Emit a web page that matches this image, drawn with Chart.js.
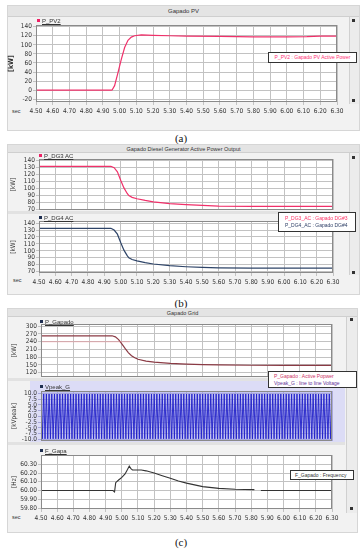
<!DOCTYPE html>
<html><head><meta charset="utf-8">
<script src="https://cdn.jsdelivr.net/npm/chart.js@4.4.1/dist/chart.umd.min.js"></script>
<style>
body{margin:0;width:363px;height:550px;background:#fff;position:relative;overflow:hidden;font-family:"Liberation Sans",Arial,sans-serif}
.panel{position:absolute;background:#f2f2f2;border:1px solid #d6d6d6;box-sizing:border-box}
.tbar{position:absolute;background:#e4e4e4;border-bottom:1px solid #cfcfcf;font-size:5.5px;color:#333;text-align:center;box-sizing:border-box}
.cap{position:absolute;font-family:"Liberation Serif",serif;font-size:11px;color:#111;width:40px;text-align:center;line-height:14px}
.lg{position:absolute;font-size:6px;color:#333;white-space:nowrap;line-height:7px;z-index:5}
.lg span{text-decoration:underline}
.lg i{display:inline-block;width:3px;height:3px;margin-right:2px;vertical-align:1px}
.box{position:absolute;background:#fff;border:1px solid #333;font-size:5px;box-sizing:border-box;white-space:nowrap;line-height:7px;z-index:5}
.sec{position:absolute;font-size:5.5px;color:#333}
.scroll{position:absolute;background:#ececec;border-left:1px solid #d0d0d0;box-sizing:border-box}
.sq{position:absolute;width:3px;height:3px;background:#333}
.sep{position:absolute;background:#e2e2e2}
canvas{position:absolute;left:0}
</style></head><body>

<!-- panel (a) -->
<div class="panel" style="left:7px;top:5px;width:353px;height:126px"></div>
<div class="tbar" style="left:8px;top:6px;width:351px;height:11px;line-height:10px;font-size:6px">Gapado PV</div>
<div class="scroll" style="left:349px;top:17px;width:10px;height:87px"></div>
<div class="sq" style="left:352px;top:19px"></div>
<div class="sq" style="left:352px;top:99px"></div>
<div class="lg" style="left:37px;top:18px"><i style="background:#ee2266"></i><span>P_PV2</span></div>
<div class="sec" style="left:12px;top:108px">sec</div>
<div class="box" style="left:268px;top:52px;width:89px;height:11px;line-height:9px;text-align:center;color:#ff3377">P_PV2 : Gapado PV Active Power</div>
<div class="cap" style="left:161px;top:131px">(a)</div>

<!-- panel (b) -->
<div class="panel" style="left:7px;top:144px;width:353px;height:151px"></div>
<div class="tbar" style="left:8px;top:145px;width:351px;height:8px;line-height:8px">Gapado Diesel Generator Active Power Output</div>
<div class="sep" style="left:8px;top:211px;width:341px;height:3px"></div>
<div class="scroll" style="left:349px;top:153px;width:10px;height:122px"></div>
<div class="sq" style="left:352px;top:156px"></div>
<div class="sq" style="left:352px;top:271px"></div>
<div class="lg" style="left:39px;top:153px"><i style="background:#ee2266"></i><span>P_DG3 AC</span></div>
<div class="lg" style="left:39px;top:215px"><i style="background:#1e2e50"></i><span>P_DG4 AC</span></div>
<div class="sec" style="left:13px;top:277px">sec</div>
<div class="box" style="left:278px;top:212px;width:78px;height:20px;padding:2px 0 0 6px"><div style="color:#ff3366">P_DG3_AC : Gapado DG#3</div><div style="color:#2e3f66">P_DG4_AC : Gapado DG#4</div></div>
<div class="cap" style="left:161px;top:296px">(b)</div>

<!-- panel (c) -->
<div class="panel" style="left:7px;top:308px;width:351px;height:225px"></div>
<div class="tbar" style="left:8px;top:309px;width:349px;height:8px;line-height:8px">Gapado Grid</div>
<div class="sep" style="left:8px;top:378px;width:337px;height:3px"></div>
<div style="position:absolute;left:30px;top:381px;width:315px;height:61px;background:#dcdcf6"></div>
<div class="sep" style="left:8px;top:442px;width:337px;height:3px"></div>
<div class="scroll" style="left:346px;top:317px;width:11px;height:196px"></div>
<div class="sq" style="left:350px;top:318px"></div>
<div class="sq" style="left:350px;top:507px"></div>
<div class="lg" style="left:40px;top:319px"><i style="background:#1e2e50"></i><span>P_Gapado</span></div>
<div class="lg" style="left:40px;top:384px"><i style="background:#1e2e50"></i><span>Vpeak_G</span></div>
<div class="lg" style="left:40px;top:448px"><i style="background:#1e2e50"></i><span>F_Gapa</span></div>
<div class="sec" style="left:12px;top:514px">sec</div>
<div class="box" style="left:268px;top:371px;width:89px;height:17px;padding:1px 0 0 5px"><div style="color:#cc3366">P_Gapado : Active Popwer</div><div style="color:#663399">Vpeak_G : line to line Voltage</div></div>
<div class="box" style="left:290px;top:470px;width:64px;height:10px;line-height:8px;padding-left:4px;color:#333">F_Gapado : Frequency</div>
<div class="cap" style="left:161px;top:535px">(c)</div>

<canvas id="cA"></canvas>
<canvas id="cB1"></canvas>
<canvas id="cB2"></canvas>
<canvas id="cC1"></canvas>
<canvas id="cC2"></canvas>
<canvas id="cC3"></canvas>

<script>
// ---------- data ----------
const xTicks = [4.50,4.60,4.70,4.80,4.90,5.00,5.10,5.20,5.30,5.40,5.50,5.60,5.70,5.80,5.90,6.00,6.10,6.20,6.30];

// (a) PV active power [kW]
const pvTimes  = [4.50,4.95,4.955,4.97,4.99,5.01,5.03,5.05,5.07,5.09,5.13,5.20,5.30,5.40,5.60,5.80,5.90,6.00,6.12,6.20,6.30];
const pvValues = [0,0,0.5,10,38,68,94,110,117,120,122,121,120,119,118.5,117.5,117.5,117.5,118,119,119];
const pvTicks  = [-20,0,20,40,60,80,100,120,140];

// (b) diesel generators [kW]
const dgTimes  = [4.50,4.94,4.96,4.98,5.00,5.02,5.04,5.05,5.07,5.10,5.15,5.20,5.30,5.40,5.50,5.60,5.80,6.00,6.30];
const dg3Values= [132,132,130,124,112,101,93,90,87.5,85.5,83,81,78.5,77,76,75,74.5,74.5,74.5];
const dg4Values= [132.5,132.5,130,124,112,101,93,90,87.5,85.5,83,81,78.5,77,76,75.5,75,75,75];
const dgTicks  = [70,80,90,100,110,120,130,140];

// (c) grid active power [kW]
const gridTimes  = [4.50,4.94,4.96,4.98,5.00,5.02,5.04,5.06,5.08,5.10,5.15,5.20,5.30,5.40,5.50,5.60,5.80,6.00,6.30];
const gridValues = [263,263,259,248,232,214,198,186,178,172,165,161,156,153,151,150,149,148.5,148.5];
const gridShadowTimes  = [4.50,5.05];
const gridShadowValues = [240,240];
const gridTicks  = [120,150,180,210,240,270,300];

// (c) line to line voltage peaks [kVpeak], one value per half cycle
const vpeakStart = 4.50;
const vpeakHalfPeriod = 1/120;
const vpeakValues = [
9.8,-9.8,9.8,-9.8,9.8,-9.8,9.8,-9.8,9.8,-9.8,9.8,-9.8,
9.8,-9.8,9.8,-9.8,9.8,-9.8,9.8,-9.8,9.8,-9.8,9.8,-9.8,
9.8,-9.8,9.8,-9.8,9.8,-9.8,9.8,-9.8,9.8,-9.8,9.8,-9.8,
9.8,-9.8,9.8,-9.8,9.8,-9.8,9.8,-9.8,9.8,-9.8,9.8,-9.8,
9.8,-9.8,9.8,-9.8,9.8,-9.8,9.8,-9.8,9.8,-9.8,9.8,-9.8,
9.8,-9.8,9.8,-9.8,9.8,-9.8,9.8,-9.8,9.8,-9.8,9.8,-9.8,
9.8,-9.8,9.8,-9.8,9.8,-9.8,9.8,-9.8,9.8,-9.8,9.8,-9.8,
9.8,-9.8,9.8,-9.8,9.8,-9.8,9.8,-9.8,9.8,-9.8,9.8,-9.8,
9.8,-9.8,9.8,-9.8,9.8,-9.8,9.8,-9.8,9.8,-9.8,9.8,-9.8,
9.8,-9.8,9.8,-9.8,9.8,-9.8,9.8,-9.8,9.8,-9.8,9.8,-9.8,
9.8,-9.8,9.8,-9.8,9.8,-9.8,9.8,-9.8,9.8,-9.8,9.8,-9.8,
9.8,-9.8,9.8,-9.8,9.8,-9.8,9.8,-9.8,9.8,-9.8,9.8,-9.8,
9.8,-9.8,9.8,-9.8,9.8,-9.8,9.8,-9.8,9.8,-9.8,9.8,-9.8,
9.8,-9.8,9.8,-9.8,9.8,-9.8,9.8,-9.8,9.8,-9.8,9.8,-9.8,
9.8,-9.8,9.8,-9.8,9.8,-9.8,9.8,-9.8,9.8,-9.8,9.8,-9.8,
9.8,-9.8,9.8,-9.8,9.8,-9.8,9.8,-9.8,9.8,-9.8,9.8,-9.8,
9.8,-9.8,9.8,-9.8,9.8,-9.8,9.8,-9.8,9.8,-9.8,9.8,-9.8,
9.8,-9.8,9.8,-9.8,9.8,-9.8,9.8,-9.8,9.8,-9.8,9.8,-9.8,
9.8];
const vpeakTicks = [-10,-7.5,-5,-2.5,0,2.5,5,7.5,10];

// (c) frequency [Hz]
const freqTimes  = [4.50,4.945,4.955,4.962,4.98,5.00,5.02,5.035,5.046,5.056,5.066,5.09,5.12,5.15,5.20,5.25,5.30,5.35,5.40,5.50,5.60,5.70,5.82,5.835,5.86,6.30];
const freqValues = [60.00,60.00,59.985,60.09,60.12,60.15,60.19,60.24,60.28,60.25,60.235,60.235,60.235,60.225,60.20,60.17,60.14,60.11,60.085,60.045,60.025,60.015,60.01,null,60.00,60.00];
const freqTicks  = [59.8,59.9,60.0,60.1,60.2,60.3];

// ---------- drawing ----------
const FONT = '"Liberation Sans Narrow","DejaVu Sans Condensed","Liberation Sans",sans-serif';
const pts = (xs, ys) => xs.map((x, i) => ({x, y: ys[i]}));

const framePlugin = {
  id: 'frame',
  beforeDraw(c, args, o) {
    const a = c.chartArea, ctx = c.ctx;
    ctx.save(); ctx.fillStyle = o.bg || '#fff';
    ctx.fillRect(a.left, a.top, a.right - a.left, a.bottom - a.top); ctx.restore();
  },
  afterDraw(c) {
    const a = c.chartArea, ctx = c.ctx;
    ctx.save(); ctx.strokeStyle = '#8a8a8a'; ctx.lineWidth = 1;
    ctx.strokeRect(Math.round(a.left) + 0.5, Math.round(a.top) + 0.5, Math.round(a.right - a.left) - 1, Math.round(a.bottom - a.top) - 1);
    ctx.restore();
  }
};

function mk(id, P, cfg) {
  const xl = !!cfg.xlabels;
  const padTop = 6, padRight = 14, padBottom = xl ? 0 : 6, xH = xl ? 16 : 0;
  const cv = document.getElementById(id);
  const top = Math.round(P.T) - padTop;
  const W = Math.round(P.R) + padRight;
  const H = Math.round(P.B) - Math.round(P.T) + padTop + padBottom + xH;
  cv.width = W; cv.height = H;
  cv.style.top = top + 'px'; cv.style.width = W + 'px'; cv.style.height = H + 'px';
  new Chart(cv, {
    type: 'line',
    data: {datasets: cfg.datasets},
    options: {
      responsive: false, animation: false, devicePixelRatio: 1,
      layout: {padding: {top: padTop, right: padRight, bottom: padBottom, left: 0}},
      plugins: {legend: {display: false}, tooltip: {enabled: false}, frame: {bg: cfg.bg || '#fff'}},
      elements: {point: {radius: 0}, line: {tension: 0}},
      scales: {
        x: {
          type: 'linear', min: 4.5, max: 6.3,
          afterBuildTicks: s => { s.ticks = xTicks.map(v => ({value: v})); },
          afterFit: s => { s.height = xH; },
          grid: {color: cfg.gridColor || '#c2c2c2', tickLength: 3, drawTicks: xl},
          border: {display: false},
          ticks: {display: xl, maxRotation: 0, autoSkip: false, padding: 2, color: '#333',
                  font: {size: 6.5, family: FONT}, callback: v => v.toFixed(2)}
        },
        y: {
          min: cfg.ymin, max: cfg.ymax,
          afterBuildTicks: s => { s.ticks = cfg.yticks.map(v => ({value: v})); },
          afterFit: s => { s.width = Math.round(P.L); },
          grid: {color: cfg.gridColor || '#c2c2c2', tickLength: 3},
          border: {display: false},
          ticks: {autoSkip: false, padding: 1, color: '#333', font: {size: 6.5, family: FONT}, callback: cfg.yfmt},
          title: {display: true, text: cfg.ytitle, color: '#333', padding: {top: cfg.tpad, bottom: 0},
                  font: {size: cfg.tsize || 6.5, weight: cfg.tweight || 'normal', family: FONT}}
        }
      }
    },
    plugins: [framePlugin]
  });
}

const intFmt = v => String(Math.round(v));

mk('cA', {L: 36, T: 25, R: 337, B: 102}, {
  xlabels: true, ymin: -26, ymax: 143.7, yticks: pvTicks, yfmt: intFmt,
  ytitle: '[kW]', tpad: 7, tsize: 7, tweight: 'bold',
  datasets: [{data: pts(pvTimes, pvValues), borderColor: '#f0306a', borderWidth: 1.2}]
});
mk('cB1', {L: 39, T: 159, R: 333, B: 210}, {
  ymin: 69.3, ymax: 142.5, yticks: dgTicks, yfmt: intFmt, ytitle: '[kW]', tpad: 9,
  datasets: [{data: pts(dgTimes, dg3Values), borderColor: '#f0306a', borderWidth: 1.2}]
});
mk('cB2', {L: 39, T: 221, R: 333, B: 273}, {
  xlabels: true, ymin: 68, ymax: 143, yticks: dgTicks, yfmt: intFmt, ytitle: '[kW]', tpad: 9,
  datasets: [{data: pts(dgTimes, dg4Values), borderColor: '#2e4468', borderWidth: 1.2}]
});
mk('cC1', {L: 41, T: 324, R: 332, B: 377}, {
  ymin: 103.4, ymax: 308.7, yticks: gridTicks, yfmt: intFmt, ytitle: '[kW]', tpad: 10,
  datasets: [
    {data: pts(gridShadowTimes, gridShadowValues), borderColor: 'rgba(240,140,150,0.55)', borderWidth: 1},
    {data: pts(gridTimes, gridValues), borderColor: '#8a3a44', borderWidth: 1.2}
  ]
});
mk('cC2', {L: 41, T: 391, R: 332, B: 441}, {
  ymin: -10.75, ymax: 11.1, yticks: vpeakTicks, yfmt: v => v.toFixed(1), ytitle: '[kVpeak]', tpad: 10,
  bg: '#c2c2f2', gridColor: '#a8a8dc',
  datasets: [{data: vpeakValues.map((y, i) => ({x: vpeakStart + i * vpeakHalfPeriod, y})), borderColor: '#1f1fc8', borderWidth: 0.9}]
});
mk('cC3', {L: 41, T: 455, R: 332, B: 509}, {
  xlabels: true, ymin: 59.789, ymax: 60.406, yticks: freqTicks, yfmt: v => v.toFixed(2), ytitle: '[Hz]', tpad: 10,
  datasets: [{data: pts(freqTimes, freqValues), borderColor: '#333333', borderWidth: 1.1, spanGaps: false}]
});
</script>
</body></html>
